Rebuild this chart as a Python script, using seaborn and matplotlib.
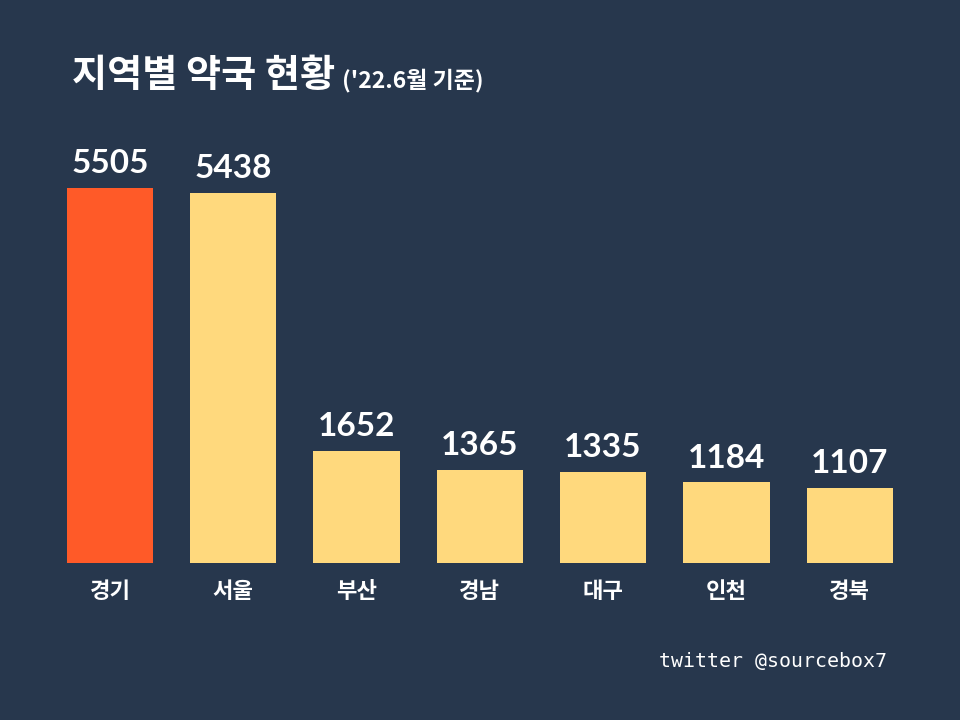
import matplotlib
matplotlib.use("Agg")
import matplotlib.pyplot as plt
import seaborn as sns
import pandas as pd

regions = ["경기", "서울", "부산", "경남", "대구", "인천", "경북"]
counts = [5505, 5438, 1652, 1365, 1335, 1184, 1107]
highlight = "경기"

BG = "#27374D"
YELLOW = "#FFD97D"
ORANGE = "#FF5A28"

sns.set_theme(style="white")
plt.rcParams['font.family'] = ['Noto Sans CJK KR', 'DejaVu Sans']

df = pd.DataFrame({"region": regions, "count": counts})
palette = {r: (ORANGE if r == highlight else YELLOW) for r in regions}

fig = plt.figure(figsize=(9.6, 7.2), dpi=100, facecolor=BG)
ax = fig.add_axes([0.0503, 0.218, 0.899, 0.5675])
ax.set_facecolor(BG)
sns.barplot(data=df, x="region", y="count", hue="region", palette=palette,
            order=regions, width=0.70, legend=False, ax=ax, saturation=1,
            linewidth=0, edgecolor="none")
ax.set_xlim(-0.5, len(regions) - 0.5)
ax.set_ylim(0, 6000)
for s in ax.spines.values():
    s.set_visible(False)
ax.set_yticks([])
ax.set_xlabel("")
ax.set_ylabel("")
ax.tick_params(axis="x", length=0, pad=12, labelsize=16, labelcolor="white")
for lbl in ax.get_xticklabels():
    lbl.set_fontweight("bold")

for i, v in enumerate(counts):
    ax.annotate(f"{v}", (i, v), xytext=(0, 7), textcoords="offset points",
                ha="center", va="bottom", color="white", fontsize=24,
                fontweight="bold", family=["Lato", "DejaVu Sans"])

fig.text(72 / 960, 1 - 76 / 720, "지역별 약국 현황", color="white", fontsize=27.5,
         fontweight="bold", va="center", ha="left")
fig.text(342 / 960, 1 - 80 / 720, "('22.6월 기준)", color="white", fontsize=16.5,
         fontweight="bold", va="center", ha="left")
fig.text(887 / 960, 1 - 661 / 720, "twitter @sourcebox7", color="white",
         fontsize=14.3, family=["DejaVu Sans Mono"], va="center", ha="right")

fig.savefig("out.png", dpi=100, facecolor=BG)
